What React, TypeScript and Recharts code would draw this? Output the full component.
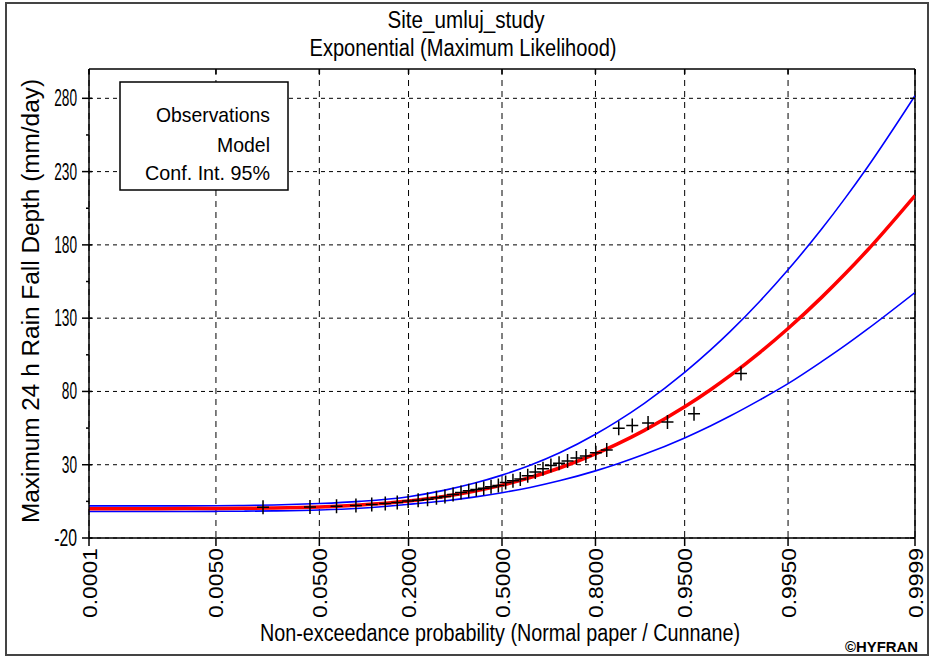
import React from 'react';
import { ComposedChart, Line, Scatter, XAxis, YAxis, CartesianGrid, ReferenceLine } from 'recharts';

const FONT = '"Liberation Sans", Arial, sans-serif';

const title1 = 'Site_umluj_study';
const title2 = 'Exponential (Maximum Likelihood)';
const xAxisLabel = 'Non-exceedance probability (Normal paper / Cunnane)';
const yAxisLabel = 'Maximum 24 h Rain Fall Depth (mm/day)';
const legendLabels = ['Observations', 'Model', 'Conf. Int. 95%'];
const credit = '\u00A9HYFRAN';

const xTickProbs = [0.0001, 0.005, 0.05, 0.2, 0.5, 0.8, 0.95, 0.995, 0.9999];
const xTickLabels = ['0.0001', '0.0050', '0.0500', '0.2000', '0.5000', '0.8000', '0.9500', '0.9950', '0.9999'];
const yTicks = [-20, 30, 80, 130, 180, 230, 280];
const yMinorTicks = [5, 55, 105, 155, 205, 255];
const yMax = 300;

const curveProbs = [0.0001, 0.0005, 0.001, 0.005, 0.01, 0.02, 0.05, 0.1, 0.2, 0.3, 0.4, 0.5, 0.6, 0.7, 0.8, 0.85, 0.9, 0.95, 0.97, 0.98, 0.99, 0.995, 0.998, 0.999, 0.9995, 0.9999];
const modelValues = [0.0, 0.01, 0.02, 0.12, 0.23, 0.47, 1.19, 2.44, 5.18, 8.28, 11.85, 16.08, 21.26, 27.93, 37.34, 44.01, 53.42, 69.5, 81.35, 90.76, 106.84, 122.92, 144.18, 160.26, 176.34, 213.68];
const upperValues = [1.9, 1.9, 1.9, 2.0, 2.2, 2.5, 3.5, 5.0, 8.2, 12.5, 17.3, 22.9, 29.6, 38.3, 50.8, 59.6, 71.9, 93.0, 108.5, 120.8, 141.9, 163.0, 190.8, 211.9, 233.0, 281.8];
const lowerValues = [-1.9, -1.9, -1.9, -1.8, -1.7, -1.5, -0.9, 0.3, 3.0, 5.3, 7.9, 10.9, 14.5, 19.2, 25.8, 30.5, 37.1, 48.3, 56.6, 63.2, 74.4, 85.3, 100.3, 111.4, 122.5, 147.5];

const obsProbs = [0.0157, 0.0419, 0.0681, 0.0942, 0.1204, 0.1466, 0.1728, 0.199, 0.2251, 0.2513, 0.2775, 0.3037, 0.3298, 0.356, 0.3822, 0.4084, 0.4346, 0.4607, 0.4869, 0.5131, 0.5393, 0.5654, 0.5916, 0.6178, 0.644, 0.6702, 0.6963, 0.7225, 0.7487, 0.7749, 0.801, 0.8272, 0.8534, 0.8796, 0.9058, 0.9319, 0.9581, 0.9843];
const obsValues = [1.0, 1.2, 1.6, 2.1, 2.8, 3.6, 4.2, 5.2, 5.8, 6.4, 7.4, 8.4, 9.6, 11.0, 12.2, 13.1, 14.0, 15.0, 15.8, 17.8, 19.0, 20.3, 22.5, 25.0, 27.3, 29.5, 31.0, 32.5, 34.5, 36.0, 38.2, 40.0, 54.8, 56.8, 58.4, 59.1, 64.8, 92.3];

// inverse standard normal CDF (normal probability paper scale)
function probit(p: number): number {
  const a = [-3.969683028665376e1, 2.209460984245205e2, -2.759285104469687e2, 1.38357751867269e2, -3.066479806614716e1, 2.506628277459239];
  const b = [-5.447609879822406e1, 1.615858368580409e2, -1.556989798598866e2, 6.680131188771972e1, -1.328068155288572e1];
  const c = [-7.784894002430293e-3, -3.223964580411365e-1, -2.400758277161838, -2.549732539343734, 4.374664141464968, 2.938163982698783];
  const d = [7.784695709041462e-3, 3.224671290700398e-1, 2.445134137142996, 3.754408661907416];
  const plow = 0.02425;
  if (p < plow) {
    const q = Math.sqrt(-2 * Math.log(p));
    return (((((c[0] * q + c[1]) * q + c[2]) * q + c[3]) * q + c[4]) * q + c[5]) / ((((d[0] * q + d[1]) * q + d[2]) * q + d[3]) * q + 1);
  }
  if (p > 1 - plow) {
    const q = Math.sqrt(-2 * Math.log(1 - p));
    return -(((((c[0] * q + c[1]) * q + c[2]) * q + c[3]) * q + c[4]) * q + c[5]) / ((((d[0] * q + d[1]) * q + d[2]) * q + d[3]) * q + 1);
  }
  const q = p - 0.5;
  const r = q * q;
  return ((((((a[0] * r + a[1]) * r + a[2]) * r + a[3]) * r + a[4]) * r + a[5]) * q) / (((((b[0] * r + b[1]) * r + b[2]) * r + b[3]) * r + b[4]) * r + 1);
}

const xTicks = xTickProbs.map(probit);
const xDomain = [probit(0.0001), probit(0.9999)];
const allYTicks = [...yTicks, ...yMinorTicks].sort((p, q) => p - q);

const curveData = curveProbs.map((p, i) => ({ z: probit(p), model: modelValues[i], upper: upperValues[i], lower: lowerValues[i] }));
const obsData = obsProbs.map((p, i) => ({ z: probit(p), v: obsValues[i] }));

const CHART_W = 934;
const CHART_H = 657;
const MARGIN = { top: 69, right: 19, bottom: 0, left: 0 };
const PLOT_TOP = MARGIN.top;
const PLOT_RIGHT = CHART_W - MARGIN.right;

const XTick = (props: any) => {
  const { x, y, payload } = props;
  const idx = xTicks.findIndex((t) => Math.abs(t - payload.value) < 1e-6);
  const label = idx >= 0 ? xTickLabels[idx] : '';
  return (
    <g>
      <line x1={x} x2={x} y1={PLOT_TOP} y2={PLOT_TOP + 5} stroke="#000" strokeWidth={1.5} />
      <g transform={`translate(${x},${y}) rotate(-90)`}>
        <text x={0} y={7.5} textAnchor="end" fontFamily={FONT} fontSize={21} fill="#000" textLength={70} lengthAdjust="spacingAndGlyphs">
          {label}
        </text>
      </g>
    </g>
  );
};

const YTick = (props: any) => {
  const { x, y, payload } = props;
  const v = payload.value;
  const major = yTicks.includes(v);
  const ax = x + 7;
  if (!major) {
    return <line x1={ax - 3} x2={ax} y1={y} y2={y} stroke="#000" strokeWidth={1.5} />;
  }
  const label = String(v);
  return (
    <g>
      <line x1={ax - 7} x2={ax + 3} y1={y} y2={y} stroke="#000" strokeWidth={1.5} />
      <line x1={PLOT_RIGHT - 5} x2={PLOT_RIGHT} y1={y} y2={y} stroke="#000" strokeWidth={1.5} />
      <text x={ax - 12} y={y + 8} textAnchor="end" fontFamily={FONT} fontSize={23} fill="#000" textLength={label.length * 7.6} lengthAdjust="spacingAndGlyphs">
        {label}
      </text>
    </g>
  );
};

const Cross = (props: any) => {
  const { cx, cy } = props;
  if (cx == null || cy == null) return <g />;
  return <path d={`M${cx - 6},${cy}h12M${cx},${cy - 7}v14`} stroke="#000" strokeWidth={1.5} fill="none" />;
};

export default function App() {
  return (
    <div style={{ position: 'absolute', left: 0, top: 0, width: CHART_W, height: CHART_H, background: '#fff' }}>
      <ComposedChart
        width={CHART_W}
        height={CHART_H}
        data={curveData}
        margin={MARGIN}
        style={{ position: 'absolute', left: 0, top: 0 }}
      >
        <CartesianGrid horizontal={false} stroke="#000" strokeDasharray="6 5" strokeWidth={1} verticalValues={xTicks} />
        <CartesianGrid vertical={false} stroke="#000" strokeDasharray="4 4" strokeWidth={1} horizontalValues={yTicks} />
        <XAxis
          dataKey="z"
          type="number"
          domain={xDomain}
          ticks={xTicks}
          allowDataOverflow
          height={119}
          tickSize={8}
          tickMargin={2}
          tick={<XTick />}
          axisLine={{ stroke: '#000', strokeWidth: 1.5 }}
          tickLine={{ stroke: '#000', strokeWidth: 1.5 }}
          interval={0}
        />
        <YAxis
          dataKey="v"
          type="number"
          domain={[-20, yMax]}
          ticks={allYTicks}
          allowDataOverflow
          width={89}
          tickSize={7}
          tickMargin={0}
          tick={<YTick />}
          axisLine={{ stroke: '#000', strokeWidth: 1.5 }}
          tickLine={false}
          interval={0}
        />
        <ReferenceLine y={yMax} stroke="#000" strokeWidth={1.5} />
        <ReferenceLine x={xDomain[1]} stroke="#000" strokeWidth={1.5} />
        <Line dataKey="upper" type="monotone" stroke="#0000ff" strokeWidth={1.6} dot={false} activeDot={false} isAnimationActive={false} />
        <Line dataKey="lower" type="monotone" stroke="#0000ff" strokeWidth={1.6} dot={false} activeDot={false} isAnimationActive={false} />
        <Line dataKey="model" type="monotone" stroke="#ff0000" strokeWidth={3.5} dot={false} activeDot={false} isAnimationActive={false} />
        <Scatter data={obsData} dataKey="v" shape={<Cross />} isAnimationActive={false} />
      </ComposedChart>
      <svg width={CHART_W} height={CHART_H} style={{ position: 'absolute', left: 0, top: 0, pointerEvents: 'none' }}>
        <rect x={6} y={3} width={922} height={652} fill="none" stroke="#444" strokeWidth={2} />
        <text x={466} y={28} textAnchor="middle" fontFamily={FONT} fontSize={23} fill="#000" textLength={157} lengthAdjust="spacingAndGlyphs">{title1}</text>
        <text x={463} y={56} textAnchor="middle" fontFamily={FONT} fontSize={23} fill="#000" textLength={307} lengthAdjust="spacingAndGlyphs">{title2}</text>
        <rect x={120} y={82} width={168} height={108} fill="#fff" stroke="#000" strokeWidth={1.5} />
        <text x={270} y={122} textAnchor="end" fontFamily={FONT} fontSize={21} fill="#000" textLength={114} lengthAdjust="spacingAndGlyphs">{legendLabels[0]}</text>
        <text x={270} y={152} textAnchor="end" fontFamily={FONT} fontSize={21} fill="#000" textLength={53} lengthAdjust="spacingAndGlyphs">{legendLabels[1]}</text>
        <text x={270} y={180} textAnchor="end" fontFamily={FONT} fontSize={21} fill="#000" textLength={125} lengthAdjust="spacingAndGlyphs">{legendLabels[2]}</text>
        <text x={500} y={641} textAnchor="middle" fontFamily={FONT} fontSize={23} fill="#000" textLength={480} lengthAdjust="spacingAndGlyphs">{xAxisLabel}</text>
        <g transform="translate(38.5,301) rotate(-90)">
          <text x={0} y={0} textAnchor="middle" fontFamily={FONT} fontSize={23} fill="#000" textLength={444} lengthAdjust="spacingAndGlyphs">{yAxisLabel}</text>
        </g>
        <text x={918} y={652} textAnchor="end" fontFamily={FONT} fontSize={15} fontWeight="bold" fill="#000" textLength={73} lengthAdjust="spacingAndGlyphs">{credit}</text>
      </svg>
    </div>
  );
}
